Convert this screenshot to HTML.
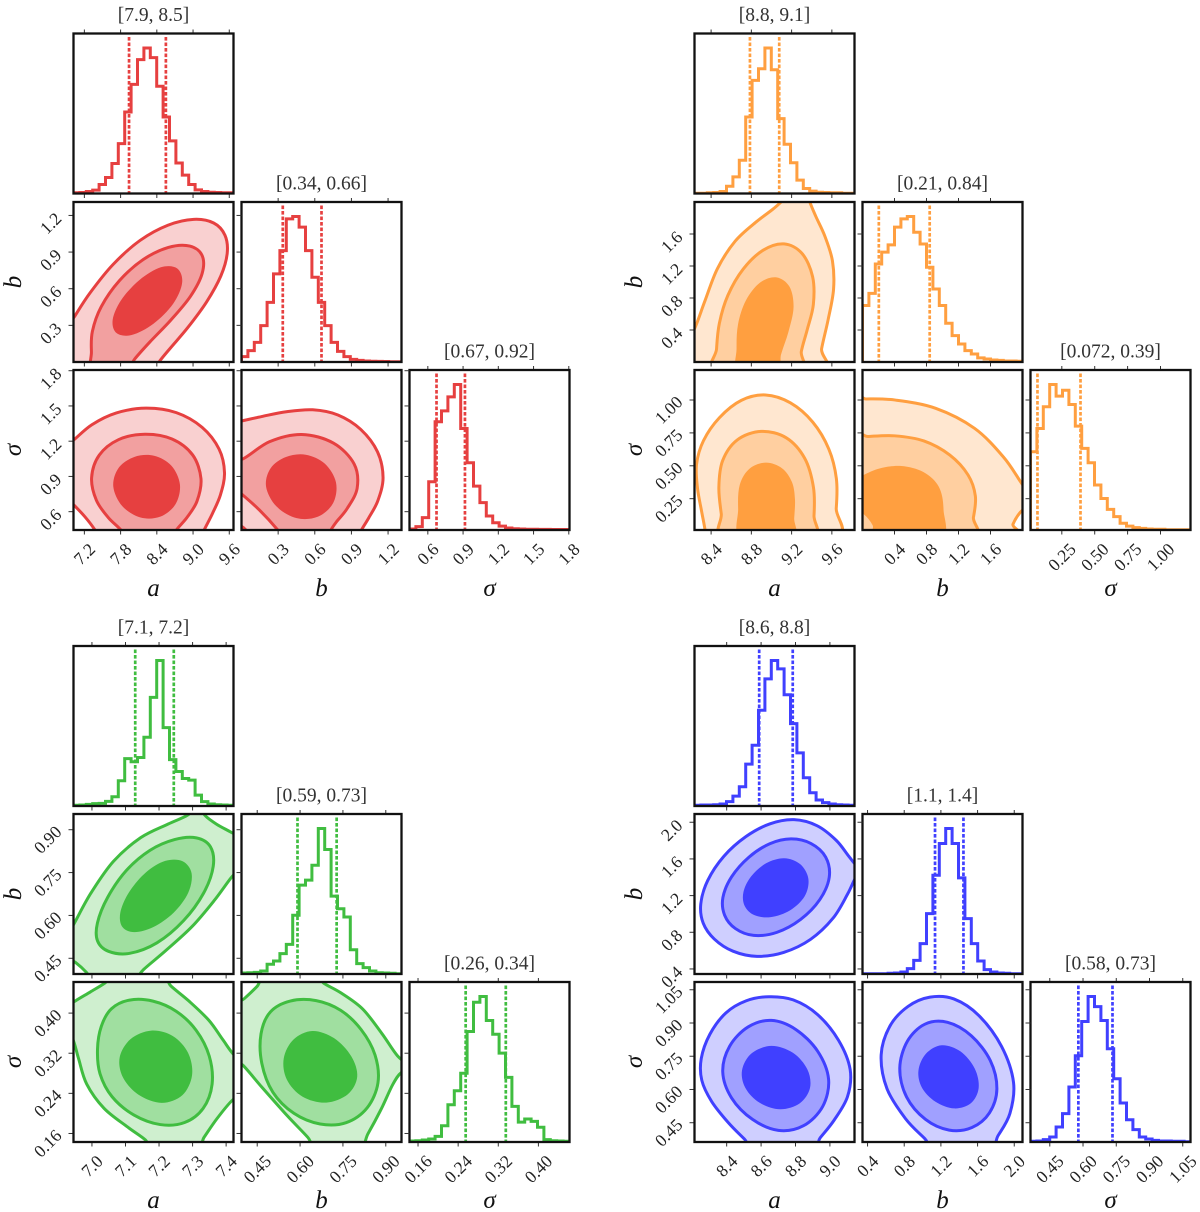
<!DOCTYPE html>
<html lang="en">
<head>
<meta charset="utf-8">
<title>Corner plots</title>
<style>
html,body{margin:0;padding:0;background:#fff;}
svg{display:block;}
text{font-family:"Liberation Serif","DejaVu Serif",serif;}
</style>
</head>
<body>
<svg id="figure" xmlns="http://www.w3.org/2000/svg" width="1200" height="1212" viewBox="0 0 1200 1212"></svg>
<script>
// ---------- RED ----------
const redRangeA=[7.02,9.67];
const redRangeB=[0.0,1.31];
const redRangeS=[0.444,1.806];
const redTicksA=["7.2","7.8","8.4","9.0","9.6"];
const redTicksB=["0.3","0.6","0.9","1.2"];
const redTicksS=["0.6","0.9","1.2","1.5","1.8"];
const redTitles=["[7.9, 8.5]","[0.34, 0.66]","[0.67, 0.92]"];
const redQuantA=[7.94,8.55];
const redQuantB=[0.338,0.655];
const redQuantS=[0.674,0.916];
const redHistA=[.005,.007,.014,.023,.062,.11,.206,.343,.56,.75,.92,1,.934,.737,.526,.362,.21,.126,.062,.025,.014,.009,.007,.005,.005];
const redHistB=[.037,.078,.135,.25,.41,.606,.766,.984,1,.927,.766,.583,.41,.25,.135,.073,.037,.018,.011,.007,.005,.004,.003,.002,.002];
const redHistS=[.007,.023,.085,.332,.744,.819,.915,1,.698,.462,.302,.188,.096,.05,.027,.014,.009,.007,.005,.005,.004,.004,.003,.003,.003];
const redABOuter=[[6.91,-.07],[6.91,.26],[7.03,.36],[7.29,.56],[7.68,.81],[8.13,1.0],[8.57,1.11],[9.01,1.17],[9.35,1.14],[9.52,1.03],[9.56,.89],[9.46,.7],[9.24,.51],[8.9,.26],[8.63,.13],[8.43,0],[8.35,-.07]];
const redABMiddle=[[7.35,-.07],[7.34,.1],[7.32,.23],[7.46,.45],[7.79,.67],[8.18,.84],[8.57,.93],[8.96,.96],[9.15,.86],[9.15,.73],[8.96,.53],[8.63,.34],[8.29,.18],[7.99,0],[7.9,-.07]];
const redABInner=[[7.67,.34],[7.79,.51],[8.13,.67],[8.46,.78],[8.74,.78],[8.83,.64],[8.68,.48],[8.35,.32],[7.96,.2],[7.74,.25]];
const redASOuter=[[6.85,1.15],[7.0,1.2],[7.32,1.35],[7.7,1.43],[8.24,1.48],[8.71,1.45],[9.15,1.32],[9.44,1.12],[9.53,.94],[9.44,.73],[9.31,.59],[9.18,.44],[9.12,.36],[7.45,.36],[7.38,.44],[7.23,.56],[7.0,.67],[6.85,.74]];
const redASMiddle=[[7.31,.87],[7.45,1.1],[7.76,1.21],[8.2,1.25],[8.65,1.22],[9.0,1.1],[9.15,.87],[9.06,.67],[8.87,.56],[8.72,.44],[8.68,.36],[7.86,.36],[7.81,.44],[7.64,.54],[7.38,.7]];
const redASInner=[[7.65,.83],[7.76,.97],[8.05,1.06],[8.33,1.08],[8.65,1.0],[8.8,.83],[8.71,.66],[8.46,.56],[8.14,.55],[7.83,.63]];
const redBSOuter=[[-.11,1.35],[-.01,1.37],[.15,1.4],[.37,1.45],[.59,1.47],[.78,1.42],[.97,1.31],[1.12,1.1],[1.17,.9],[1.11,.67],[1.03,.56],[.98,.44],[.95,.36],[.08,.36],[.04,.44],[-.03,.49],[-.11,.49]];
const redBSMiddle=[[-.11,1.11],[-.01,1.04],[.21,1.21],[.49,1.25],[.75,1.21],[.93,.98],[.97,.81],[.84,.61],[.76,.51],[.73,.44],[.7,.36],[.35,.36],[.3,.44],[.15,.63],[-.01,.76],[-.11,.84]];
const redBSInner=[[.18,.83],[.24,.97],[.38,1.06],[.51,1.08],[.68,1.03],[.79,.84],[.75,.67],[.62,.56],[.46,.54],[.29,.63]];

// ---------- ORANGE ----------
const orangeRangeA=[8.235,9.825];
const orangeRangeB=[0.0,2.0];
const orangeRangeS=[0.012,1.228];
const orangeTicksA=["8.4","8.8","9.2","9.6"];
const orangeTicksB=["0.4","0.8","1.2","1.6"];
const orangeTicksS=["0.25","0.50","0.75","1.00"];
const orangeTitles=["[8.8, 9.1]","[0.21, 0.84]","[0.072, 0.39]"];
const orangeQuantA=[8.786,9.077];
const orangeQuantB=[0.204,0.84];
const orangeQuantS=[0.065,0.392];
const orangeHistA=[.002,.002,.005,.007,.014,.05,.114,.229,.526,.778,.858,1,.851,.515,.339,.211,.092,.034,.016,.009,.007,.005,.005,.002,.002];
const orangeHistB=[.388,.472,.674,.755,.805,.927,.984,1,.892,.811,.651,.502,.388,.266,.181,.124,.078,.055,.028,.021,.014,.011,.007,.007,.005];
const orangeHistS=[.538,.698,.847,1,.92,.961,.863,.714,.561,.462,.309,.217,.142,.092,.046,.027,.016,.011,.007,.005,.005,.002,.002,.002,.002];
const orangeABOuter=[[8.13,-.15],[8.13,.19],[8.24,.35],[8.34,.77],[8.46,1.19],[8.62,1.5],[8.86,1.77],[9.04,1.9],[9.12,2.04],[9.12,2.15],[9.35,2.15],[9.38,2.0],[9.43,1.81],[9.53,1.6],[9.61,1.23],[9.63,.94],[9.56,.52],[9.48,.15],[9.46,-.15]];
const orangeABMiddle=[[8.45,-.15],[8.46,.19],[8.48,.44],[8.56,.85],[8.72,1.15],[8.92,1.4],[9.12,1.47],[9.3,1.38],[9.42,1.06],[9.42,.69],[9.35,.4],[9.28,.15],[9.27,-.15]];
const orangeABInner=[[8.67,-.15],[8.66,.19],[8.66,.44],[8.74,.77],[8.89,1.0],[9.04,1.06],[9.19,.94],[9.23,.69],[9.17,.35],[9.07,.1],[9.05,-.15]];
const orangeASOuter=[[8.34,-.06],[8.34,.01],[8.32,.14],[8.26,.34],[8.26,.52],[8.31,.67],[8.49,.87],[8.71,1.0],[8.93,1.04],[9.19,.97],[9.41,.84],[9.57,.62],[9.65,.39],[9.64,.19],[9.6,-.06]];
const orangeASMiddle=[[8.54,-.06],[8.51,.14],[8.48,.32],[8.51,.54],[8.64,.7],[8.91,.76],[9.15,.71],[9.33,.57],[9.43,.32],[9.41,.11],[9.39,-.06]];
const orangeASInner=[[8.7,-.06],[8.67,.19],[8.68,.34],[8.77,.48],[8.95,.53],[9.11,.48],[9.21,.37],[9.23,.24],[9.22,.11],[9.21,-.06]];
const orangeBSOuter=[[-.16,1.0],[0,1.0],[.39,1.0],[.94,.94],[1.4,.8],[1.77,.57],[1.98,.34],[2.09,.27],[2.09,.21],[1.98,.15],[1.86,.06],[1.83,-.06],[-.16,-.06]];
const orangeBSMiddle=[[-.16,.71],[0,.71],[.44,.73],[.76,.7],[1.08,.58],[1.33,.42],[1.43,.27],[1.36,.11],[1.32,-.06],[-.16,-.06]];
const orangeBSInner=[[-.16,.37],[0,.42],[.21,.48],[.48,.5],[.76,.46],[.97,.32],[1.02,.19],[.97,-.06],[.18,-.06],[.14,.04],[.02,.15],[-.16,.19]];

// ---------- GREEN ----------
const greenRangeA=[6.945,7.422];
const greenRangeB=[0.395,0.955];
const greenRangeS=[0.143,0.462];
const greenTicksA=["7.0","7.1","7.2","7.3","7.4"];
const greenTicksB=["0.45","0.60","0.75","0.90"];
const greenTicksS=["0.16","0.24","0.32","0.40"];
const greenTitles=["[7.1, 7.2]","[0.59, 0.73]","[0.26, 0.34]"];
const greenQuantA=[7.129,7.244];
const greenQuantB=[0.591,0.728];
const greenQuantS=[0.255,0.335];
const greenHistA=[.005,.007,.011,.016,.018,.032,.064,.174,.326,.304,.333,.473,.747,1,.539,.319,.237,.189,.178,.075,.03,.014,.009,.007,.005];
const greenHistB=[.007,.009,.011,.021,.067,.089,.14,.204,.404,.611,.645,.748,1,.856,.535,.449,.392,.167,.071,.044,.021,.009,.007,.005,.002];
const greenHistS=[.007,.009,.014,.021,.039,.112,.256,.352,.473,.76,.961,1,.835,.741,.611,.444,.245,.137,.158,.142,.101,.016,.009,.007,.005];
const greenABOuter=[[6.916,.503],[6.95,.567],[6.995,.678],[7.065,.795],[7.144,.877],[7.223,.917],[7.298,.947],[7.313,.982],[7.323,.982],[7.328,.947],[7.372,.923],[7.422,.888],[7.452,.865],[7.452,.783],[7.417,.748],[7.362,.643],[7.303,.561],[7.223,.479],[7.139,.403],[7.114,.362],[7.01,.362],[6.99,.395],[6.947,.442],[6.916,.462]];
const greenABMiddle=[[7.017,.561],[7.045,.666],[7.104,.76],[7.174,.83],[7.243,.859],[7.313,.873],[7.352,.842],[7.362,.771],[7.333,.678],[7.273,.584],[7.194,.503],[7.114,.462],[7.045,.479],[7.02,.52]];
const greenABInner=[[7.082,.608],[7.109,.678],[7.164,.754],[7.213,.789],[7.273,.792],[7.298,.748],[7.288,.678],[7.243,.608],[7.184,.561],[7.124,.54],[7.094,.561]];
const greenASOuter=[[6.914,.407],[6.945,.423],[6.994,.443],[7.046,.46],[7.069,.476],[7.206,.476],[7.217,.457],[7.297,.423],[7.354,.387],[7.389,.347],[7.417,.315],[7.457,.3],[7.457,.247],[7.417,.234],[7.377,.187],[7.326,.147],[7.309,.127],[7.183,.127],[7.174,.147],[7.103,.174],[7.034,.207],[6.979,.26],[6.958,.307],[6.952,.357],[6.914,.373]];
const greenASMiddle=[[7.034,.373],[7.051,.41],[7.114,.425],[7.183,.423],[7.251,.403],[7.309,.367],[7.349,.314],[7.36,.26],[7.331,.207],[7.274,.184],[7.206,.177],[7.126,.197],[7.057,.234],[7.023,.28],[7.019,.327]];
const greenASInner=[[7.082,.307],[7.109,.35],[7.183,.368],[7.24,.353],[7.286,.32],[7.299,.28],[7.274,.234],[7.206,.216],[7.137,.24],[7.094,.274]];
const greenBSOuter=[[.359,.407],[.395,.423],[.461,.459],[.486,.476],[.654,.476],[.669,.457],[.744,.441],[.826,.411],[.884,.367],[.943,.297],[.99,.292],[.99,.284],[.943,.284],[.93,.26],[.896,.214],[.822,.147],[.802,.127],[.661,.127],[.647,.147],[.553,.194],[.459,.247],[.399,.31],[.359,.314]];
const greenBSMiddle=[[.486,.403],[.567,.423],[.661,.423],[.742,.407],[.809,.367],[.862,.314],[.876,.267],[.836,.207],[.755,.181],[.674,.181],[.58,.201],[.5,.24],[.466,.3],[.473,.36]];
const greenBSInner=[[.543,.307],[.574,.347],[.647,.368],[.715,.353],[.782,.307],[.799,.277],[.775,.24],[.688,.216],[.607,.234],[.553,.27]];

// ---------- BLUE ----------
const blueRangeA=[8.213,9.143];
const blueRangeB=[0.345,2.09];
const blueRangeS=[0.363,1.085];
const blueTicksA=["8.4","8.6","8.8","9.0"];
const blueTicksB=["0.4","0.8","1.2","1.6","2.0"];
const blueTicksS=["0.45","0.60","0.75","0.90","1.05"];
const blueTitles=["[8.6, 8.8]","[1.1, 1.4]","[0.58, 0.73]"];
const blueQuantA=[8.589,8.784];
const blueQuantB=[1.136,1.446];
const blueQuantS=[0.579,0.733];
const blueHistA=[.005,.007,.007,.009,.014,.03,.068,.132,.288,.418,.658,.874,1,.943,.765,.566,.365,.194,.091,.041,.023,.014,.009,.007,.005];
const blueHistB=[.002,.002,.002,.002,.005,.007,.014,.037,.094,.209,.415,.679,.897,1,.897,.661,.381,.209,.089,.03,.014,.007,.005,.002,.002];
const blueHistS=[.005,.007,.016,.034,.103,.195,.378,.593,.828,1,.931,.835,.641,.435,.268,.153,.085,.034,.021,.011,.007,.007,.005,.005,.002];
const blueABOuter=[[8.253,1.081],[8.286,1.373],[8.383,1.628],[8.518,1.847],[8.653,1.974],[8.788,2.029],[8.923,1.974],[9.039,1.81],[9.116,1.61],[9.136,1.537],[9.184,1.519],[9.184,1.446],[9.132,1.428],[9.116,1.227],[9.02,.936],[8.885,.717],[8.73,.59],[8.576,.535],[8.441,.59],[8.325,.735],[8.267,.917]];
const blueABMiddle=[[8.379,1.154],[8.421,1.409],[8.537,1.628],[8.653,1.756],[8.769,1.818],[8.885,1.774],[8.981,1.61],[8.997,1.409],[8.942,1.154],[8.827,.936],[8.692,.808],[8.556,.753],[8.45,.845],[8.392,1.009]];
const blueABInner=[[8.498,1.227],[8.537,1.409],[8.634,1.555],[8.73,1.61],[8.827,1.555],[8.879,1.373],[8.856,1.191],[8.769,1.045],[8.653,.954],[8.556,.99],[8.508,1.1]];
const blueASOuter=[[8.254,.719],[8.297,.855],[8.404,.952],[8.512,.997],[8.641,1.009],[8.791,1.005],[8.92,.952],[9.049,.809],[9.125,.689],[9.11,.569],[9.017,.464],[8.931,.373],[8.888,.328],[8.566,.328],[8.527,.373],[8.404,.441],[8.308,.554],[8.258,.651]];
const blueASMiddle=[[8.372,.674],[8.415,.794],[8.533,.885],[8.662,.91],[8.791,.877],[8.931,.764],[9.0,.652],[8.963,.524],[8.834,.433],[8.705,.414],[8.555,.464],[8.426,.569]];
const blueASInner=[[8.49,.674],[8.533,.764],[8.662,.809],[8.791,.764],[8.867,.682],[8.884,.614],[8.834,.539],[8.705,.498],[8.587,.546],[8.512,.614]];
const blueBSOuter=[[.548,.764],[.649,.885],[.849,.975],[1.09,1.011],[1.33,1.005],[1.611,.945],[1.851,.794],[2.02,.614],[1.972,.509],[1.771,.373],[1.711,.328],[1.15,.328],[1.082,.373],[.809,.464],[.588,.599]];
const blueBSMiddle=[[.749,.689],[.829,.824],[1.05,.892],[1.25,.907],[1.531,.839],[1.751,.734],[1.811,.599],[1.731,.494],[1.531,.433],[1.29,.414],[1.05,.464],[.809,.569]];
const blueBSInner=[[.957,.674],[1.03,.764],[1.21,.806],[1.41,.779],[1.579,.682],[1.611,.614],[1.531,.539],[1.35,.501],[1.13,.554],[.99,.614]];

const axisLetters=["a","b","\u03C3"];

// ---------- layout (not data) ----------
const NS='http://www.w3.org/2000/svg';
const svg=document.getElementById('figure');
const PANEL_W=160, PANEL_H=160;
const HIST_TOP=1.1;
let clipCounter=0;

function mk(tag,attrs,parent){
  const el=document.createElementNS(NS,tag);
  for(const k in attrs){el.setAttribute(k,attrs[k]);}
  parent.appendChild(el);
  return el;
}
function axisX(range,left){return v=>left+(v-range[0])/(range[1]-range[0])*PANEL_W;}
function axisY(range,top){return v=>top+PANEL_H-(v-range[0])/(range[1]-range[0])*PANEL_H;}
// Non-shrinking vertex smoothing; vertices beyond the panel stay pinned.
function relax(pts,left,top){
  const inside=p=>p[0]>=left&&p[0]<=left+PANEL_W&&p[1]>=top&&p[1]<=top+PANEL_H;
  let cur=pts.map(p=>p.slice());
  const n=cur.length;
  const pass=f=>{
    const nxt=cur.map(p=>p.slice());
    for(let i=0;i<n;i++){
      if(!inside(pts[i]))continue;
      const a=cur[(i-1+n)%n],b=cur[(i+1)%n];
      nxt[i][0]=cur[i][0]+f*((a[0]+b[0])/2-cur[i][0]);
      nxt[i][1]=cur[i][1]+f*((a[1]+b[1])/2-cur[i][1]);
    }
    cur=nxt;
  };
  for(let k=0;k<3;k++){pass(0.5);pass(-0.53);}
  return cur;
}
function smoothClosed(pts){
  const n=pts.length;
  let d='M'+pts[0][0].toFixed(2)+' '+pts[0][1].toFixed(2);
  for(let i=0;i<n;i++){
    const p0=pts[(i-1+n)%n],p1=pts[i],p2=pts[(i+1)%n],p3=pts[(i+2)%n];
    const c1x=p1[0]+(p2[0]-p0[0])/6,c1y=p1[1]+(p2[1]-p0[1])/6;
    const c2x=p2[0]-(p3[0]-p1[0])/6,c2y=p2[1]-(p3[1]-p1[1])/6;
    d+='C'+c1x.toFixed(2)+' '+c1y.toFixed(2)+' '+c2x.toFixed(2)+' '+c2y.toFixed(2)+' '+p2[0].toFixed(2)+' '+p2[1].toFixed(2);
  }
  return d+'Z';
}
function halfBox(label){
  const w=(label.length-1)*8.5+4.25;
  return (w+11)*0.354;
}
function addFrameAndClip(g,left,top){
  const id='clip'+(clipCounter++);
  const cp=mk('clipPath',{id:id},g);
  mk('rect',{x:left,y:top,width:PANEL_W,height:PANEL_H},cp);
  return id;
}
function drawFrame(g,left,top,prefix){
  const fr=mk('rect',{x:left,y:top,width:PANEL_W,height:PANEL_H,fill:'none',stroke:'#111','stroke-width':2.3},g);
  
  
}
function tickX(g,x,y1,y2,prefix){
  const t=mk('line',{x1:x,x2:x,y1:y1,y2:y2,stroke:'#333','stroke-width':1},g);
  
  
}
function tickY(g,y,x1,x2,prefix){
  const t=mk('line',{x1:x1,x2:x2,y1:y,y2:y,stroke:'#333','stroke-width':1},g);
  
  
}
function rotLabel(g,label,cx,cy,prefix){
  const t=mk('text',{x:cx,y:cy,'text-anchor':'middle','dominant-baseline':'central','font-size':17.5,fill:'#222',transform:'rotate(-45 '+cx+' '+cy+')'},g);
  t.textContent=label;
  
  
}

function drawHist(g,v,idx,colX,rowY,gridName,colors){
  const left=colX[idx],top=rowY[idx];
  const prefix=gridName+'-'+v.key+'-histogram-panel';
  const panel=mk('g',{},g);
  
  
  const clipId=addFrameAndClip(panel,left,top);
  const X=axisX(v.range,left);
  const Y=axisY([0,HIST_TOP],top);
  const binW=(v.range[1]-v.range[0])/v.hist.length;
  let d='M'+X(v.range[0]).toFixed(2)+' '+Y(0).toFixed(2);
  v.hist.forEach((h,i)=>{
    const e0=v.range[0]+i*binW,e1=e0+binW;
    d+='L'+X(e0).toFixed(2)+' '+Y(h).toFixed(2)+'L'+X(e1).toFixed(2)+' '+Y(h).toFixed(2);
  });
  d+='L'+X(v.range[1]).toFixed(2)+' '+Y(0).toFixed(2);
  const line=mk('path',{d:d,fill:'none',stroke:colors.main,'stroke-width':3,'stroke-linejoin':'miter','clip-path':'url(#'+clipId+')'},panel);
  
  
  v.quant.forEach(q=>{
    const l=mk('line',{x1:X(q),x2:X(q),y1:top+3.5,y2:top+PANEL_H,stroke:colors.main,'stroke-width':2.7,'stroke-dasharray':'3.6 1.9'},panel);
    
    
  });
  const title=mk('text',{x:left+PANEL_W/2,y:top-12.5,'text-anchor':'middle','font-size':19.5,fill:'#333'},panel);
  title.textContent=v.title;
  
  
  v.ticks.forEach(lbl=>{
    const x=X(parseFloat(lbl));
    tickX(panel,x,top-4,top,prefix);
    tickX(panel,x,top+PANEL_H,top+PANEL_H+4.5,prefix);
  });
  drawFrame(panel,left,top,prefix);
}

function drawContourPanel(g,vx,vy,polys,c,r,colX,rowY,gridName,colors){
  const left=colX[c],top=rowY[r];
  const prefix=gridName+'-'+vx.key+'-'+vy.key+'-contour-panel';
  const panel=mk('g',{},g);
  
  
  const clipId=addFrameAndClip(panel,left,top);
  const X=axisX(vx.range,left);
  const Y=axisY(vy.range,top);
  const inner=mk('g',{'clip-path':'url(#'+clipId+')'},panel);
  const fills=[colors.outer,colors.middle,colors.main];
  const levelNames=['outer','middle','inner'];
  polys.forEach((poly,lvl)=>{
    const pts=relax(poly.map(p=>[X(p[0]),Y(p[1])]),left,top);
    const attrs={d:smoothClosed(pts),fill:fills[lvl]};
    if(lvl<2){attrs.stroke=colors.main;attrs['stroke-width']=3;attrs['stroke-linejoin']='round';}
    const path=mk('path',attrs,inner);
    
    
  });
  vx.ticks.forEach(lbl=>{
    tickX(panel,X(parseFloat(lbl)),top+PANEL_H,top+PANEL_H+4.5,prefix);
  });
  vy.ticks.forEach(lbl=>{
    tickY(panel,Y(parseFloat(lbl)),left-5,left,prefix);
  });
  drawFrame(panel,left,top,prefix);
}

function drawGrid(gridName,vars,contours,colX,rowY,colors){
  const g=mk('g',{},svg);
  
  
  vars.forEach((v,i)=>drawHist(g,v,i,colX,rowY,gridName,colors));
  drawContourPanel(g,vars[0],vars[1],contours.ab,0,1,colX,rowY,gridName,colors);
  drawContourPanel(g,vars[0],vars[2],contours.as,0,2,colX,rowY,gridName,colors);
  drawContourPanel(g,vars[1],vars[2],contours.bs,1,2,colX,rowY,gridName,colors);
  // left ticks on hist panels in rows 1,2
  [1,2].forEach(i=>{
    const Y=axisY(vars[i].range,rowY[i]);
    vars[i].ticks.forEach(lbl=>{
      tickY(g,Y(parseFloat(lbl)),colX[i]-5,colX[i],gridName+'-'+vars[i].key+'-histogram');
    });
  });
  // x tick labels and axis letters
  const bottom=rowY[2]+PANEL_H;
  vars.forEach((v,i)=>{
    const X=axisX(v.range,colX[i]);
    v.ticks.forEach(lbl=>{
      rotLabel(g,lbl,X(parseFloat(lbl)),bottom+12.5+halfBox(lbl),gridName+'-'+v.key+'-x');
    });
    const t=mk('text',{x:colX[i]+PANEL_W/2,y:bottom+66,'text-anchor':'middle','font-size':25,'font-style':'italic',fill:'#111'},g);
    t.textContent=v.letter;
    
    
  });
  // y tick labels and axis letters
  [1,2].forEach(i=>{
    const v=vars[i];
    const Y=axisY(v.range,rowY[i]);
    v.ticks.forEach(lbl=>{
      const hb=halfBox(lbl);
      rotLabel(g,lbl,colX[0]-11.5-hb,Y(parseFloat(lbl))+hb*0.68,gridName+'-'+v.key+'-y');
    });
    const cx=colX[0]-52.5, cy=rowY[i]+PANEL_H/2;
    const t=mk('text',{x:cx,y:cy,'text-anchor':'middle','font-size':25,'font-style':'italic',fill:'#111',transform:'rotate(-90 '+cx+' '+cy+')'},g);
    t.textContent=v.letter;
    
    
  });
}

function vars(rA,rB,rS,tA,tB,tS,hA,hB,hS,qA,qB,qS,titles){
  return [
    {key:'a',letter:axisLetters[0],range:rA,ticks:tA,hist:hA,quant:qA,title:titles[0]},
    {key:'b',letter:axisLetters[1],range:rB,ticks:tB,hist:hB,quant:qB,title:titles[1]},
    {key:'sigma',letter:axisLetters[2],range:rS,ticks:tS,hist:hS,quant:qS,title:titles[2]}
  ];
}

const leftCols=[73.5,241.5,409.5], rightCols=[694.5,862.5,1030.5];
const topRows=[33.5,202,370], lowRows=[646,814,982];

drawGrid('red',vars(redRangeA,redRangeB,redRangeS,redTicksA,redTicksB,redTicksS,redHistA,redHistB,redHistS,redQuantA,redQuantB,redQuantS,redTitles),
  {ab:[redABOuter,redABMiddle,redABInner],as:[redASOuter,redASMiddle,redASInner],bs:[redBSOuter,redBSMiddle,redBSInner]},
  leftCols,topRows,{main:'#e64040',middle:'#f2a0a0',outer:'#f9d0d0'});
drawGrid('orange',vars(orangeRangeA,orangeRangeB,orangeRangeS,orangeTicksA,orangeTicksB,orangeTicksS,orangeHistA,orangeHistB,orangeHistS,orangeQuantA,orangeQuantB,orangeQuantS,orangeTitles),
  {ab:[orangeABOuter,orangeABMiddle,orangeABInner],as:[orangeASOuter,orangeASMiddle,orangeASInner],bs:[orangeBSOuter,orangeBSMiddle,orangeBSInner]},
  rightCols,topRows,{main:'#ff9f40',middle:'#ffcfa0',outer:'#ffe7d0'});
drawGrid('green',vars(greenRangeA,greenRangeB,greenRangeS,greenTicksA,greenTicksB,greenTicksS,greenHistA,greenHistB,greenHistS,greenQuantA,greenQuantB,greenQuantS,greenTitles),
  {ab:[greenABOuter,greenABMiddle,greenABInner],as:[greenASOuter,greenASMiddle,greenASInner],bs:[greenBSOuter,greenBSMiddle,greenBSInner]},
  leftCols,lowRows,{main:'#40bd40',middle:'#a0dfa0',outer:'#cfefcf'});
drawGrid('blue',vars(blueRangeA,blueRangeB,blueRangeS,blueTicksA,blueTicksB,blueTicksS,blueHistA,blueHistB,blueHistS,blueQuantA,blueQuantB,blueQuantS,blueTitles),
  {ab:[blueABOuter,blueABMiddle,blueABInner],as:[blueASOuter,blueASMiddle,blueASInner],bs:[blueBSOuter,blueBSMiddle,blueBSInner]},
  rightCols,lowRows,{main:'#4040ff',middle:'#a0a0ff',outer:'#cfcfff'});
</script>
</body>
</html>
